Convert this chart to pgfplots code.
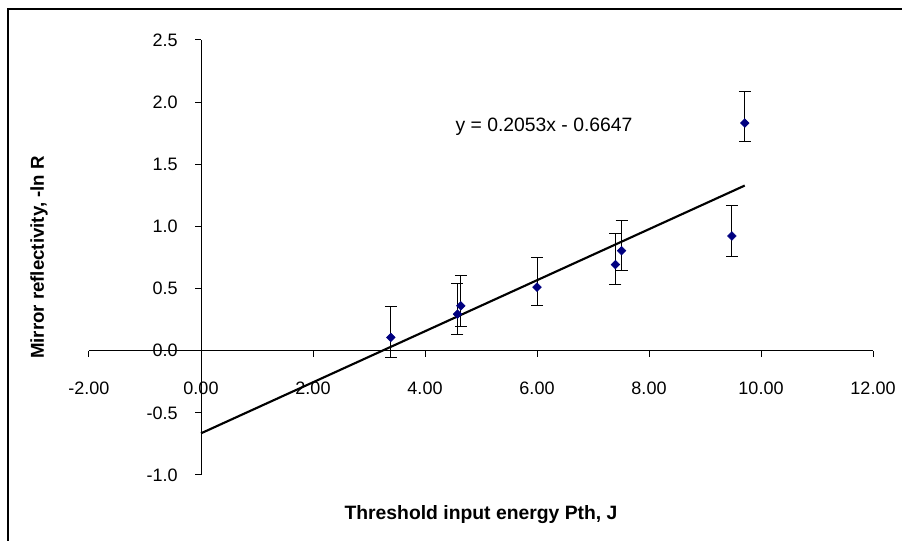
\documentclass[border=0pt]{standalone}
\usepackage{pgfplots}
\pgfplotsset{compat=1.18}
\usepackage{pgfplotstable}
\usepackage{fontspec}
\setmainfont{Liberation Sans}

% x, -ln R, upper and lower error
\pgfplotstableread{
x     y      ep     em
3.39  0.107  0.249  0.160
4.58  0.294  0.244  0.160
4.64  0.361  0.243  0.166
6.00  0.511  0.235  0.150
7.40  0.693  0.251  0.161
7.51  0.805  0.246  0.163
9.48  0.923  0.246  0.166
9.71  1.832  0.252  0.149
}\refldata

\definecolor{marknavy}{HTML}{000080}

\begin{document}
\fontsize{13.5}{16}\selectfont
\begin{tikzpicture}
    \useasboundingbox (-66.75pt,-49.5pt) rectangle (609.75pt,356.25pt);
    \begin{axis}[
            scale only axis,
            width=588pt,
            height=326.25pt,
            xmin=-2, xmax=12,
            ymin=-1, ymax=2.5,
            axis lines=middle,
            axis line style={-, line width=0.75pt},
            hide obscured x ticks=false,
            hide obscured y ticks=false,
            xtick={-2,0,2,4,6,8,10,12},
            xticklabels={-2.00,0.00,2.00,4.00,6.00,8.00,10.00,12.00},
            ytick={-1,-0.5,0,0.5,1,1.5,2,2.5},
            yticklabels={-1.0,-0.5,0.0,0.5,1.0,1.5,2.0,2.5},
            tick align=outside,
            major tick length=4.5pt,
            tick style={black, line width=0.75pt},
            xticklabel style={anchor=center, yshift=-24pt},
            yticklabel style={anchor=east, inner sep=0pt, xshift=-12.75pt},
            xlabel={\fontsize{14.5}{17}\selectfont\bfseries Threshold input energy Pth, J},
            ylabel={\fontsize{14}{17}\selectfont\bfseries Mirror reflectivity, -ln R},
            xlabel style={at={(rel axis cs:0.5,0)}, anchor=center, yshift=-30pt},
            ylabel style={at={(rel axis cs:0,0.5)}, anchor=center, xshift=-37.5pt, rotate=90},
            clip=false,
        ]
        \addplot [black, line width=1.6pt] coordinates {(0,-0.6647) (9.71,1.3288)};
        \addplot [
                only marks,
                mark=square*,
                mark size=2.3pt,
                mark options={rotate=45, marknavy, fill=marknavy},
                error bars/.cd,
                y dir=both,
                y explicit,
                error bar style={black, line width=0.75pt},
                error mark options={rotate=90, mark size=4.5pt, black, line width=0.75pt},
            ] table [x=x, y=y, y error plus=ep, y error minus=em] {\refldata};
        \node [font=\fontsize{14.5}{17}\selectfont] at (axis cs:6.125,1.80) {y = 0.2053x - 0.6647};
    \end{axis}
    \draw [line width=1.5pt] (-60.75pt,-80pt) -- (-60.75pt,349.5pt) -- (640pt,349.5pt);
\end{tikzpicture}
\end{document}
